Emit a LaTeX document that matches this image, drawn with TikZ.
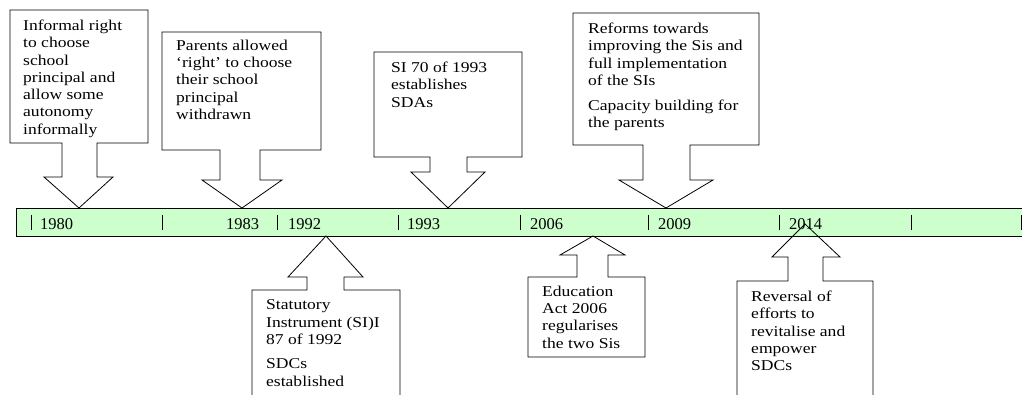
\documentclass[tikz,border=0pt]{standalone}
\usepackage{fontspec}
\setmainfont{Liberation Serif}[FakeStretch=1.17]
\newfontfamily\yearfont{Liberation Serif}
\definecolor{barfill}{HTML}{CCFFCC}
\tikzset{
  callout/.style={draw=black, line width=0.8pt, line join=miter},
  ctext/.style={anchor=north west, align=left, inner sep=0pt, font=\fontsize{15}{17.3}\selectfont},
  yearlbl/.style={anchor=base west, inner sep=0pt, font=\yearfont\fontsize{16.5}{18}\selectfont},
  tickmark/.style={draw=black, line width=0.8pt},
  barbox/.style={draw=black, line width=0.8pt, fill=barfill, anchor=north west, inner sep=0pt,
    minimum width=1010pt, minimum height=28pt},
}
\begin{document}
\begin{tikzpicture}[x=1pt,y=-1pt]
\useasboundingbox (0,0) rectangle (1022,394);
% timeline bar
\node[barbox] (bar) at (16,208) {};
\foreach \x in {31,162,277,398,520,648,779,911,1021}
  \draw[tickmark] (\x,215) -- (\x,230);
\node[yearlbl] (y1980) at (40,229) {1980};
\node[yearlbl] (y1983) at (226,229) {1983};
\node[yearlbl] (y1992) at (288,229) {1992};
\node[yearlbl] (y1993) at (407,229) {1993};
\node[yearlbl] (y2006) at (530,229) {2006};
\node[yearlbl] (y2009) at (658,229) {2009};
\node[yearlbl] (y2014) at (789,229) {2014};
% down callouts
\draw[callout] (10,10) -- (148,10) -- (148,143) -- (97,143) -- (97,177) -- (113,177) -- (79,208)
  -- (44,177) -- (62,177) -- (62,143) -- (10,143) -- cycle;
\node[ctext] (c1) at (23,19.7) {Informal right\\to choose\\school\\principal and\\allow some\\autonomy\\informally};
\draw[callout] (162,32) -- (321,32) -- (321,150) -- (260,150) -- (260,180) -- (282,180) -- (242,208)
  -- (202,180) -- (220,180) -- (220,150) -- (162,150) -- cycle;
\node[ctext] (c2) at (176,39.7) {Parents allowed\\`right' to choose\\their school\\principal\\withdrawn};
\draw[callout] (374,52) -- (522,52) -- (522,157) -- (467,157) -- (467,172) -- (485,172) -- (448,208)
  -- (411,172) -- (430,172) -- (430,157) -- (374,157) -- cycle;
\node[ctext] (c3) at (391,61.7) {SI 70 of 1993\\establishes\\SDAs};
\draw[callout] (573,13) -- (759,13) -- (759,145) -- (690,145) -- (690,180) -- (713,180) -- (666,208)
  -- (619,180) -- (643,180) -- (643,145) -- (573,145) -- cycle;
\node[ctext] (c4) at (588,22.7) {Reforms towards\\improving the Sis and\\full implementation\\of the SIs\\[8pt]Capacity building for\\the parents};
% up callouts
\draw[callout] (400,400) -- (400,290) -- (344,290) -- (344,277) -- (363,277) -- (326,236)
  -- (288,277) -- (307,277) -- (307,290) -- (252,290) -- (252,400);
\node[ctext] (c5) at (266,299.7) {Statutory\\Instrument (SI)I\\87 of 1992\\[7pt]SDCs\\established};
\draw[callout] (593,236) -- (625,255) -- (608,255) -- (608,277) -- (645,277) -- (645,357) -- (528,357)
  -- (528,277) -- (577,277) -- (577,255) -- (560,255) -- cycle;
\node[ctext] (c6) at (542,285.7) {Education\\Act 2006\\regularises\\the two Sis};
\draw[callout] (873,400) -- (873,281) -- (823,281) -- (823,257) -- (840,257) -- (805,224)
  -- (772,257) -- (788,257) -- (788,281) -- (737,281) -- (737,400);
\node[ctext] (c7) at (751,290.7) {Reversal of\\efforts to\\revitalise and\\empower\\SDCs};
\end{tikzpicture}
\end{document}
